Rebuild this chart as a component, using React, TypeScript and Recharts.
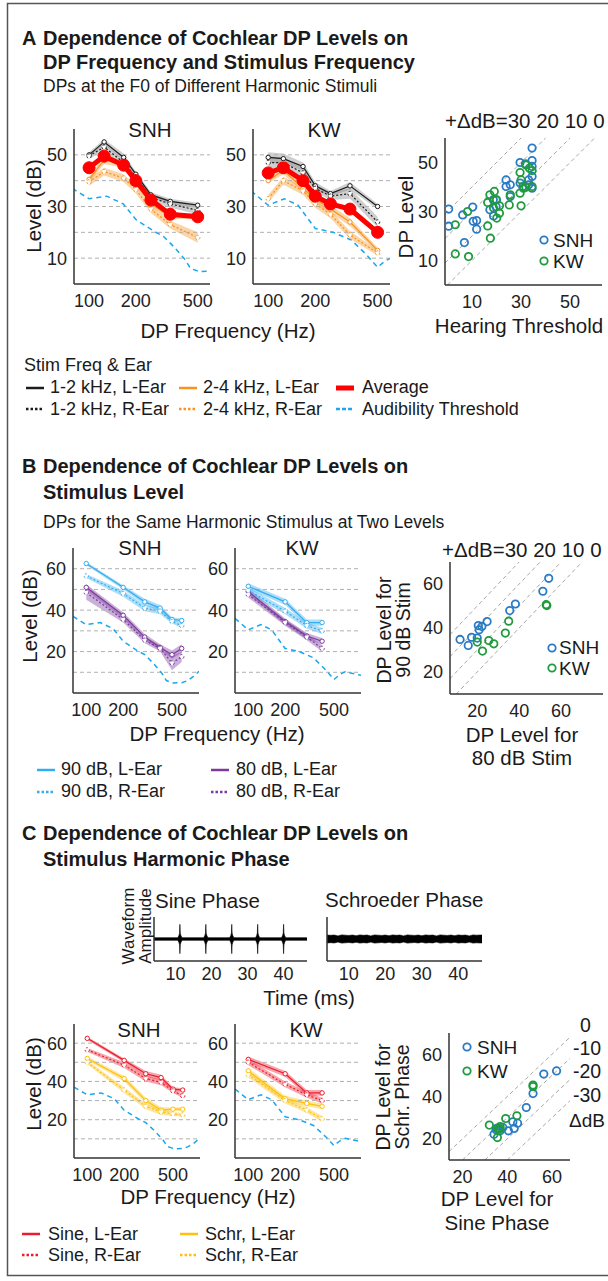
import React from 'react';
import { ComposedChart, Line, Area, XAxis, YAxis, Scatter, ReferenceLine } from 'recharts';

const FONT = '"Liberation Sans", Arial, Helvetica, sans-serif';

// ---------- Colours ----------
const C_BLACK = '#1c1c1c';
const C_ORANGE = '#f7931e';
const C_AVG = '#ff0000';
const C_THR = '#1aa7ec';
const C_B90 = '#33adf0';
const C_B80 = '#7a3a9e';
const C_SINE = '#ec1c2c';
const C_SCHR = '#fdc010';
const C_SNH = '#2a7bc6';
const C_KW = '#1f9b3e';

// ---------- Panel A data ----------
const fA = [100, 125, 167, 200, 250, 333, 500];
const snhA_blackL = [50, 55, 49, 42.5, 34.5, 32, 30.5];
const snhA_blackR = [49.5, 53, 47, 41.5, 33.5, 31, 28.5];
const snhA_orangeL = [40.5, 48, 46, 39, 31, 26, 26.5];
const snhA_orangeR = [39.5, 43.5, 41, 36.5, 29, 23, 18];
const snhA_avg = [45, 49.5, 46, 40, 32.5, 27, 26];
const snhA_blackLErr = [1, 1, 1.5, 1, 1, 1, 1];
const snhA_blackRErr = [1, 1.5, 1, 1, 1.5, 1.5, 1.5];
const snhA_orangeLErr = [1, 1.5, 1, 1, 1, 1, 1];
const snhA_orangeRErr = [1.5, 1.5, 1.5, 1.5, 1.5, 1.5, 2];

const kwA_blackL = [49, 48.5, 45.5, 38, 35, 38, 30];
const kwA_blackR = [47, 47, 43, 37, 34, 35, 24];
const kwA_orangeL = [40, 44, 37, 33, 29, 24, 13];
const kwA_orangeR = [33, 40, 36, 31, 27, 19, 12];
const kwA_avg = [43, 45, 40, 34, 31, 29, 20];
const kwA_blackLErr = [2, 2, 1.5, 1.5, 1, 1.5, 1];
const kwA_blackRErr = [2.5, 2, 2, 1.5, 1.5, 2, 2];
const kwA_orangeLErr = [1, 1.5, 1.5, 1.5, 1.5, 1.5, 1];
const kwA_orangeRErr = [1.5, 1.5, 1.5, 1.5, 1.5, 1.5, 1];

// audibility thresholds
const snhThrF = [78, 100, 130, 166, 200, 260, 300, 350, 414, 450, 513, 600, 660, 750, 830];
const snhThrL = [37, 33, 34, 31, 25, 20.5, 18.5, 14.5, 9.5, 6, 4.8, 5, 5.8, 8, 10.5];
const kwThrF = [78, 100, 127, 155, 200, 260, 340, 430, 500, 560, 620, 700, 830];
const kwThrL = [36, 30.5, 33, 30.5, 21.5, 20, 17, 11, 6.5, 9, 10.3, 9.5, 8.5];

// scatter A: DP level vs hearing threshold
const scA_snhX = [0.5, 0.5, 6.2, 6.9, 10.3, 10.5, 11.9, 11.9, 18.8, 20, 23.9, 23.9, 25.6, 25.6, 29.6, 29.6, 31.8, 33.1, 34.5, 34.5, 34.5, 34.5, 34.5, 33.1, 30.7, 17.3, 18.7, 19.8];
const scA_snhY = [31, 24, 28.6, 17.3, 31.8, 26, 26.3, 22.8, 28.2, 34.8, 42.9, 40.2, 40.9, 36.1, 50, 41.6, 49.5, 40.9, 55.9, 50.8, 48.4, 44.3, 39.5, 42.9, 40.2, 30.7, 34.8, 32];
const scA_kwX = [3.2, 3.2, 8.6, 8.2, 16.4, 17.5, 16.4, 17.3, 19.1, 18.8, 21.2, 21.2, 20.1, 25.2, 25.6, 29.6, 29.6, 30, 31, 32, 33.4, 34.5, 34.5, 32, 30, 19.8];
const scA_kwY = [24.6, 12.7, 11.6, 30, 24.1, 19.1, 33.7, 36.8, 38.2, 31.4, 32.3, 29.3, 27.3, 32.7, 36.8, 45.9, 37.5, 32.3, 39.5, 49, 47.7, 46.7, 40.2, 39.9, 42.9, 34.8];
const diagA = [30, 20, 10, 0];

// ---------- Panel B data ----------
const fB_snh = [100, 200, 300, 400, 500, 600];
const snhB_90L = [62.5, 51, 44, 41, 35.5, 35];
const snhB_90R = [56.5, 48, 41, 39.5, 34.5, 32.5];
const snhB_80L = [51, 37.5, 27, 22, 18.5, 21.5];
const snhB_80R = [48.5, 35.5, 25.5, 21.5, 14.5, 17.5];
const snhB_90LErr = [0.8, 1, 1.5, 1.5, 1, 1];
const snhB_90RErr = [1, 1.5, 1.5, 1.5, 1, 1];
const snhB_80LErr = [1.5, 1.5, 1.5, 1.5, 2, 2];
const snhB_80RErr = [3.5, 1.5, 1.5, 1.5, 3.5, 2.5];
const fB_kw = [100, 200, 300, 400];
const kwB_90L = [51.5, 44, 34, 34];
const kwB_90R = [49.5, 39.5, 32.5, 30];
const kwB_80L = [49, 34.5, 27.5, 25];
const kwB_80R = [47.5, 34, 27, 21.5];
const kwB_90LErr = [1.5, 1.5, 1.5, 1.5];
const kwB_90RErr = [1.5, 1.5, 1.5, 1.5];
const kwB_80LErr = [1.5, 1.5, 1.5, 1.5];
const kwB_80RErr = [1.5, 1.5, 1.5, 1.5];

const scB_snhX = [11.8, 15.7, 17.3, 20, 20.5, 20.9, 22.2, 24.7, 35.5, 38.2, 51.3, 54.1];
const scB_snhY = [34.8, 32.1, 35.8, 35.4, 41.1, 39.2, 40.7, 42.9, 47.9, 50.9, 56.7, 62.6];
const scB_kwX = [20, 22.5, 25.5, 27.9, 33.4, 35, 52.9, 53.2];
const scB_kwY = [33.6, 29.5, 34.3, 32.8, 37.7, 43.1, 50.6, 50.2];
const diagB = [30, 20, 10, 0];

// ---------- Panel C data ----------
const snhC_sineL = [62.5, 51, 44, 42, 36, 35.5];
const snhC_sineR = [56.5, 48.5, 41.5, 39.5, 35, 32.5];
const snhC_schrL = [52, 41.5, 30, 25, 25.5, 25.5];
const snhC_schrR = [50, 35.5, 27, 24, 23, 22.5];
const snhC_sineLErr = [0.8, 1, 1.5, 1.5, 1, 1];
const snhC_sineRErr = [1, 1.5, 1.5, 1.5, 1, 1];
const snhC_schrLErr = [1, 1.5, 1.5, 1.5, 1, 1];
const snhC_schrRErr = [1, 1.5, 1.5, 1.5, 1, 1];
const kwC_sineL = [51.5, 44, 34, 34];
const kwC_sineR = [50, 38.5, 33, 30];
const kwC_schrL = [45.5, 31, 28.5, 27];
const kwC_schrR = [43.5, 30, 25, 20.5];
const kwC_err = [1.5, 1.5, 1.5, 1.5];

const scC_snhX = [34.1, 35, 36.8, 38, 40.5, 42.5, 43.1, 44.6, 48.5, 51.5, 56.3, 62, 36.5, 35.3];
const scC_snhY = [22.2, 24.3, 23.8, 25.4, 23.8, 28, 24.9, 27.4, 34.8, 41.4, 50.6, 52.1, 24.6, 24.9];
const scC_kwX = [32, 35.6, 35.9, 36.8, 39.3, 44.3, 51.5, 51.5, 36.8];
const scC_kwY = [26.5, 20.6, 24.9, 25.8, 29.6, 30.9, 45.4, 44.7, 24.6];
const diagC = [0, -10, -20, -30];

// waveform envelopes (ms, relative amplitude)
const waveDomain = [4, 46.5];
const sinePulseTimes = [11.2, 18.4, 25.6, 32.8, 40];
const pulseOffsets = [-0.6, -0.3, -0.1, 0, 0.1, 0.3, 0.6];
const pulseAmps = [0.09, 0.22, 0.4, 1.0, 0.4, 0.22, 0.09];
const sineBase = 0.09;
const schrTimes = [4, 5, 6, 7, 8, 9, 10, 11, 12, 13, 14, 15, 16, 17, 18, 19, 20, 21, 22, 23, 24, 25, 26, 27, 28, 29, 30, 31, 32, 33, 34, 35, 36, 37, 38, 39, 40, 41, 42, 43, 44, 45, 46, 46.5];
const schrAmps = [0.27, 0.25, 0.27, 0.21, 0.28, 0.26, 0.24, 0.27, 0.22, 0.28, 0.25, 0.27, 0.21, 0.28, 0.26, 0.24, 0.27, 0.22, 0.28, 0.25, 0.27, 0.21, 0.28, 0.26, 0.24, 0.27, 0.22, 0.28, 0.25, 0.27, 0.21, 0.28, 0.26, 0.24, 0.27, 0.22, 0.28, 0.25, 0.27, 0.21, 0.28, 0.26, 0.27, 0.27];

// ---------- helpers ----------
type Spec = { key: string; xs: number[]; ys: any[] };
function mergeRows(specs: Spec[], xKey: string) {
  const map = new Map<number, any>();
  specs.forEach((s) => {
    s.xs.forEach((x, i) => {
      if (!map.has(x)) map.set(x, { [xKey]: x });
      map.get(x)[s.key] = s.ys[i];
    });
  });
  return Array.from(map.values()).sort((a, b) => a[xKey] - b[xKey]);
}

const axisLine = { stroke: '#333', strokeWidth: 1.5 };
const tickStyle = { fill: '#222', fontSize: 18, fontFamily: FONT };

type Box = { x0: number; y0: number; x1: number; y1: number };
type SeriesDef = {
  key: string; f: number[]; v: number[]; err?: number[]; color: string;
  dash?: string; width?: number; dot?: 'open' | 'big' | 'none'; bandColor?: string;
};

const YW = 50, MT = 4, MR = 4, XH = 36;

function FreqChart({ box, xDomain, yDomain, yTicks, grid, series }: { box: Box; xDomain: number[]; yDomain: number[]; yTicks: number[]; grid: number[]; series: SeriesDef[] }) {
  const W = box.x1 - box.x0 + YW + MR;
  const H = box.y1 - box.y0 + MT + XH;
  const specs: Spec[] = [];
  series.forEach((s) => {
    specs.push({ key: s.key, xs: s.f, ys: s.v });
    if (s.err) specs.push({ key: s.key + '_band', xs: s.f, ys: s.v.map((y, i) => [y - s.err![i], y + s.err![i]]) });
  });
  const rows = mergeRows(specs, 'f');
  return (
    <div style={{ position: 'absolute', left: box.x0 - YW, top: box.y0 - MT }}>
      <ComposedChart width={W} height={H} data={rows} margin={{ top: MT, right: MR, bottom: 0, left: 0 }}>
        <XAxis dataKey="f" type="number" scale="log" domain={xDomain} allowDataOverflow ticks={[100, 200, 500]} height={XH} axisLine={axisLine} tickLine={false} tickSize={0} tickMargin={10} tick={tickStyle} />
        <YAxis type="number" domain={yDomain} allowDataOverflow ticks={yTicks} width={YW} axisLine={axisLine} tickLine={false} tickSize={0} tickMargin={7} tick={tickStyle} />
        {grid.map((g) => (
          <ReferenceLine key={'g' + g} y={g} stroke="#b0b0b0" strokeDasharray="4 3" strokeWidth={1} />
        ))}
        {series.filter((s) => s.err).map((s) => (
          <Area key={s.key + '_a'} dataKey={s.key + '_band'} stroke="none" fill={s.bandColor || s.color} fillOpacity={0.4} connectNulls isAnimationActive={false} dot={false} activeDot={false} />
        ))}
        {series.map((s) => (
          <Line
            key={s.key}
            dataKey={s.key}
            stroke={s.color}
            strokeWidth={s.width ?? 1.2}
            strokeDasharray={s.dash}
            connectNulls
            isAnimationActive={false}
            activeDot={false}
            dot={s.dot === 'big' ? { r: 6, fill: s.color, stroke: s.color, strokeWidth: 1 } : s.dot === 'none' ? false : { r: 2.2, fill: '#fff', stroke: s.color, strokeWidth: 1 }}
          />
        ))}
      </ComposedChart>
    </div>
  );
}

function ScatterPanel({ box, xDomain, yDomain, xTicks, yTicks, diag, sets }: { box: Box; xDomain: number[]; yDomain: number[]; xTicks: number[]; yTicks: number[]; diag: number[]; sets: { xs: number[]; ys: number[]; color: string }[] }) {
  const W = box.x1 - box.x0 + YW + MR;
  const H = box.y1 - box.y0 + MT + XH;
  return (
    <div style={{ position: 'absolute', left: box.x0 - YW, top: box.y0 - MT }}>
      <ComposedChart width={W} height={H} margin={{ top: MT, right: MR, bottom: 0, left: 0 }}>
        <XAxis dataKey="x" type="number" domain={xDomain} allowDataOverflow ticks={xTicks} height={XH} axisLine={axisLine} tickLine={false} tickSize={0} tickMargin={10} tick={tickStyle} />
        <YAxis dataKey="y" type="number" domain={yDomain} allowDataOverflow ticks={yTicks} width={YW} axisLine={axisLine} tickLine={false} tickSize={0} tickMargin={7} tick={tickStyle} />
        {diag.map((k) => {
          const a = Math.max(xDomain[0], yDomain[0] - k);
          const b = Math.min(xDomain[1], yDomain[1] - k);
          return (
            <ReferenceLine key={'d' + k} segment={[{ x: a, y: a + k }, { x: b, y: b + k }]} stroke="#a8a8a8" strokeDasharray="4 3" strokeWidth={1} />
          );
        })}
        {sets.map((s, i) => (
          <Scatter
            key={'s' + i}
            data={s.xs.map((x, j) => ({ x, y: s.ys[j] }))}
            isAnimationActive={false}
            shape={(p: any) => <circle cx={p.cx} cy={p.cy} r={3.7} fill="none" stroke={s.color} strokeWidth={1.8} />}
          />
        ))}
      </ComposedChart>
    </div>
  );
}

function WavePanel({ box, rows }: { box: Box; rows: { t: number; r: number[] }[] }) {
  const W = box.x1 - box.x0 + YW + MR;
  const H = box.y1 - box.y0 + MT + XH;
  return (
    <div style={{ position: 'absolute', left: box.x0 - YW, top: box.y0 - MT }}>
      <ComposedChart width={W} height={H} data={rows} margin={{ top: MT, right: MR, bottom: 0, left: 0 }}>
        <XAxis dataKey="t" type="number" domain={waveDomain} allowDataOverflow ticks={[10, 20, 30, 40]} height={XH} axisLine={axisLine} tickLine={false} tickSize={0} tickMargin={6} tick={tickStyle} />
        <YAxis type="number" domain={[-1.5, 1.5]} allowDataOverflow tick={false} width={YW} axisLine={axisLine} tickLine={false} />
        <Area dataKey="r" stroke="#000" strokeWidth={0.6} fill="#000" fillOpacity={1} isAnimationActive={false} dot={false} activeDot={false} />
      </ComposedChart>
    </div>
  );
}

// ---------- build waveform rows ----------
const sineRows = (() => {
  const pts: { t: number; a: number }[] = [{ t: waveDomain[0], a: sineBase }];
  sinePulseTimes.forEach((tp) => pulseOffsets.forEach((o, k) => pts.push({ t: tp + o, a: pulseAmps[k] })));
  pts.push({ t: waveDomain[1], a: sineBase });
  return pts.map((p) => ({ t: p.t, r: [-p.a, p.a] }));
})();
const schrRows = schrTimes.map((t, i) => ({ t, r: [-schrAmps[i], schrAmps[i]] }));

// ---------- boxes ----------
const boxA1 = { x0: 74, y0: 129, x1: 210, y1: 284 };
const boxA2 = { x0: 253, y0: 129, x1: 390, y1: 284 };
const boxA3 = { x0: 445, y0: 138, x1: 602, y1: 285 };
const boxB1 = { x0: 73, y0: 548, x1: 199, y1: 693 };
const boxB2 = { x0: 235, y0: 548, x1: 361, y1: 693 };
const boxB3 = { x0: 450, y0: 562, x1: 603, y1: 694 };
const boxW1 = { x0: 154, y0: 917, x1: 307, y1: 961 };
const boxW2 = { x0: 327, y0: 917, x1: 482, y1: 961 };
const boxC1 = { x0: 74, y0: 1024, x1: 200, y1: 1158 };
const boxC2 = { x0: 235, y0: 1024, x1: 361, y1: 1158 };
const boxC3 = { x0: 449, y0: 1033, x1: 570, y1: 1160 };

const domA = [80, 600];
const domBC = [78, 830];

function thr(key: string, f: number[], v: number[]): SeriesDef {
  return { key, f, v, color: C_THR, dash: '5 4', width: 1.5, dot: 'none' };
}

// ---------- text overlay helpers ----------
const LAB = 20.5;
const LEG = 18;
const SLEG = 19;
function T({ x, y, s = LAB, w = 400, a = 'start', rot = false, fill = '#1a1a1a', children }: any) {
  return (
    <text x={x} y={y} fontSize={s} fontWeight={w} textAnchor={a} fill={fill} fontFamily={FONT} transform={rot ? `rotate(-90 ${x} ${y})` : undefined}>
      {children}
    </text>
  );
}
function LegLine({ x, y, color, dash, w = 2.5 }: any) {
  return <line x1={x} y1={y} x2={x + 18} y2={y} stroke={color} strokeWidth={w} strokeDasharray={dash} />;
}
function LegDot({ x, y, color }: any) {
  return <circle cx={x} cy={y} r={3.7} fill="none" stroke={color} strokeWidth={1.8} />;
}

export default function App() {
  return (
    <div style={{ position: 'absolute', left: 0, top: 0, width: 608, height: 1281, background: '#fff', fontFamily: FONT, overflow: 'hidden' }}>
      {/* Panel A */}
      <FreqChart box={boxA1} xDomain={domA} yDomain={[0, 60]} yTicks={[10, 30, 50]} grid={[10, 20, 30, 40, 50]}
        series={[
          thr('thr', snhThrF, snhThrL),
          { key: 'bl', f: fA, v: snhA_blackL, err: snhA_blackLErr, color: C_BLACK, bandColor: '#888' },
          { key: 'br', f: fA, v: snhA_blackR, err: snhA_blackRErr, color: C_BLACK, bandColor: '#888', dash: '2 2' },
          { key: 'ol', f: fA, v: snhA_orangeL, err: snhA_orangeLErr, color: C_ORANGE },
          { key: 'or', f: fA, v: snhA_orangeR, err: snhA_orangeRErr, color: C_ORANGE, dash: '2 2' },
          { key: 'avg', f: fA, v: snhA_avg, color: C_AVG, width: 5, dot: 'big' },
        ]} />
      <FreqChart box={boxA2} xDomain={domA} yDomain={[0, 60]} yTicks={[10, 30, 50]} grid={[10, 20, 30, 40, 50]}
        series={[
          thr('thr', kwThrF, kwThrL),
          { key: 'bl', f: fA, v: kwA_blackL, err: kwA_blackLErr, color: C_BLACK, bandColor: '#888' },
          { key: 'br', f: fA, v: kwA_blackR, err: kwA_blackRErr, color: C_BLACK, bandColor: '#888', dash: '2 2' },
          { key: 'ol', f: fA, v: kwA_orangeL, err: kwA_orangeLErr, color: C_ORANGE },
          { key: 'or', f: fA, v: kwA_orangeR, err: kwA_orangeRErr, color: C_ORANGE, dash: '2 2' },
          { key: 'avg', f: fA, v: kwA_avg, color: C_AVG, width: 5, dot: 'big' },
        ]} />
      <ScatterPanel box={boxA3} xDomain={[-1, 63]} yDomain={[0, 60]} xTicks={[10, 30, 50]} yTicks={[10, 30, 50]} diag={diagA}
        sets={[{ xs: scA_snhX, ys: scA_snhY, color: C_SNH }, { xs: scA_kwX, ys: scA_kwY, color: C_KW }]} />

      {/* Panel B */}
      <FreqChart box={boxB1} xDomain={domBC} yDomain={[0, 70]} yTicks={[20, 40, 60]} grid={[10, 20, 30, 40, 50, 60]}
        series={[
          thr('thr', snhThrF, snhThrL),
          { key: 'pl', f: fB_snh, v: snhB_80L, err: snhB_80LErr, color: C_B80 },
          { key: 'pr', f: fB_snh, v: snhB_80R, err: snhB_80RErr, color: C_B80, dash: '2 2' },
          { key: 'cl', f: fB_snh, v: snhB_90L, err: snhB_90LErr, color: C_B90 },
          { key: 'cr', f: fB_snh, v: snhB_90R, err: snhB_90RErr, color: C_B90, dash: '2 2' },
        ]} />
      <FreqChart box={boxB2} xDomain={domBC} yDomain={[0, 70]} yTicks={[20, 40, 60]} grid={[10, 20, 30, 40, 50, 60]}
        series={[
          thr('thr', kwThrF, kwThrL),
          { key: 'pl', f: fB_kw, v: kwB_80L, err: kwB_80LErr, color: C_B80 },
          { key: 'pr', f: fB_kw, v: kwB_80R, err: kwB_80RErr, color: C_B80, dash: '2 2' },
          { key: 'cl', f: fB_kw, v: kwB_90L, err: kwB_90LErr, color: C_B90 },
          { key: 'cr', f: fB_kw, v: kwB_90R, err: kwB_90RErr, color: C_B90, dash: '2 2' },
        ]} />
      <ScatterPanel box={boxB3} xDomain={[7, 80]} yDomain={[10, 70]} xTicks={[20, 40, 60]} yTicks={[20, 40, 60]} diag={diagB}
        sets={[{ xs: scB_snhX, ys: scB_snhY, color: C_SNH }, { xs: scB_kwX, ys: scB_kwY, color: C_KW }]} />

      {/* Panel C */}
      <WavePanel box={boxW1} rows={sineRows} />
      <WavePanel box={boxW2} rows={schrRows} />
      <FreqChart box={boxC1} xDomain={domBC} yDomain={[0, 70]} yTicks={[20, 40, 60]} grid={[10, 20, 30, 40, 50, 60]}
        series={[
          thr('thr', snhThrF, snhThrL),
          { key: 'yl', f: fB_snh, v: snhC_schrL, err: snhC_schrLErr, color: C_SCHR },
          { key: 'yr', f: fB_snh, v: snhC_schrR, err: snhC_schrRErr, color: C_SCHR, dash: '2 2' },
          { key: 'rl', f: fB_snh, v: snhC_sineL, err: snhC_sineLErr, color: C_SINE },
          { key: 'rr', f: fB_snh, v: snhC_sineR, err: snhC_sineRErr, color: C_SINE, dash: '2 2' },
        ]} />
      <FreqChart box={boxC2} xDomain={domBC} yDomain={[0, 70]} yTicks={[20, 40, 60]} grid={[10, 20, 30, 40, 50, 60]}
        series={[
          thr('thr', kwThrF, kwThrL),
          { key: 'yl', f: fB_kw, v: kwC_schrL, err: kwC_err, color: C_SCHR },
          { key: 'yr', f: fB_kw, v: kwC_schrR, err: kwC_err, color: C_SCHR, dash: '2 2' },
          { key: 'rl', f: fB_kw, v: kwC_sineL, err: kwC_err, color: C_SINE },
          { key: 'rr', f: fB_kw, v: kwC_sineR, err: kwC_err, color: C_SINE, dash: '2 2' },
        ]} />
      <ScatterPanel box={boxC3} xDomain={[14, 68]} yDomain={[10, 70]} xTicks={[20, 40, 60]} yTicks={[20, 40, 60]} diag={diagC}
        sets={[{ xs: scC_snhX, ys: scC_snhY, color: C_SNH }, { xs: scC_kwX, ys: scC_kwY, color: C_KW }]} />

      {/* text overlay */}
      <svg width={608} height={1281} style={{ position: 'absolute', left: 0, top: 0, pointerEvents: 'none' }}>
        <rect x={7.5} y={3.5} width={640} height={1272} fill="none" stroke="#555" strokeWidth={1.5} />

        {/* A */}
        <T x={22} y={45} s={20} w={700}>A</T>
        <T x={43} y={45} s={20} w={700}>Dependence of Cochlear DP Levels on</T>
        <T x={43} y={69} s={20} w={700}>DP Frequency and Stimulus Frequency</T>
        <T x={43} y={92} s={17.5}>DPs at the F0 of Different Harmonic Stimuli</T>
        <T x={150} y={137} a="middle">SNH</T>
        <T x={324} y={137} a="middle">KW</T>
        <T x={445} y={128}>+ΔdB=30 20 10 0</T>
        <T x={41} y={206} a="middle" rot>Level (dB)</T>
        <T x={228} y={338} a="middle">DP Frequency (Hz)</T>
        <T x={413} y={217} a="middle" rot>DP Level</T>
        <T x={519} y={333} a="middle">Hearing Threshold</T>
        <LegDot x={544} y={240} color={C_SNH} />
        <T x={553} y={247} s={SLEG}>SNH</T>
        <LegDot x={544} y={261} color={C_KW} />
        <T x={553} y={268} s={SLEG}>KW</T>

        <T x={24} y={371} s={LEG}>Stim Freq &amp; Ear</T>
        <LegLine x={26} y={388} color={C_BLACK} />
        <T x={50} y={393} s={LEG}>1-2 kHz, L-Ear</T>
        <LegLine x={26} y={409} color={C_BLACK} dash="2.5 2" />
        <T x={50} y={415} s={LEG}>1-2 kHz, R-Ear</T>
        <LegLine x={179} y={388} color={C_ORANGE} />
        <T x={203} y={393} s={LEG}>2-4 kHz, L-Ear</T>
        <LegLine x={179} y={409} color={C_ORANGE} dash="2.5 2" />
        <T x={203} y={415} s={LEG}>2-4 kHz, R-Ear</T>
        <LegLine x={336} y={388} color={C_AVG} w={5} />
        <T x={362} y={393} s={LEG}>Average</T>
        <LegLine x={336} y={409} color={C_THR} dash="4 2" />
        <T x={362} y={415} s={LEG}>Audibility Threshold</T>

        {/* B */}
        <T x={22} y={473} s={20} w={700}>B</T>
        <T x={43} y={473} s={20} w={700}>Dependence of Cochlear DP Levels on</T>
        <T x={43} y={499} s={20} w={700}>Stimulus Level</T>
        <T x={43} y={528} s={17.5}>DPs for the Same Harmonic Stimulus at Two Levels</T>
        <T x={140} y={555} a="middle">SNH</T>
        <T x={302} y={555} a="middle">KW</T>
        <T x={442} y={557}>+ΔdB=30 20 10 0</T>
        <T x={37} y={616} a="middle" rot>Level (dB)</T>
        <T x={217} y={741} a="middle">DP Frequency (Hz)</T>
        <T x={391} y={630} s={19.5} a="middle" rot>DP Level for</T>
        <T x={410} y={630} s={19.5} a="middle" rot>90 dB Stim</T>
        <T x={522} y={742} a="middle">DP Level for</T>
        <T x={522} y={765} a="middle">80 dB Stim</T>
        <LegDot x={552} y={648} color={C_SNH} />
        <T x={559} y={654} s={SLEG}>SNH</T>
        <LegDot x={552} y={668} color={C_KW} />
        <T x={559} y={675} s={SLEG}>KW</T>

        <LegLine x={37} y={770} color={C_B90} />
        <T x={61} y={775} s={LEG}>90 dB, L-Ear</T>
        <LegLine x={37} y={792} color={C_B90} dash="2.5 2" />
        <T x={61} y={797} s={LEG}>90 dB, R-Ear</T>
        <LegLine x={211} y={770} color={C_B80} />
        <T x={236} y={775} s={LEG}>80 dB, L-Ear</T>
        <LegLine x={211} y={792} color={C_B80} dash="2.5 2" />
        <T x={236} y={797} s={LEG}>80 dB, R-Ear</T>

        {/* C */}
        <T x={22} y={840} s={20} w={700}>C</T>
        <T x={43} y={840} s={20} w={700}>Dependence of Cochlear DP Levels on</T>
        <T x={43} y={866} s={20} w={700}>Stimulus Harmonic Phase</T>
        <T x={155} y={908}>Sine Phase</T>
        <T x={325} y={907}>Schroeder Phase</T>
        <T x={134} y={926} s={17} a="middle" rot>Waveform</T>
        <T x={151} y={926} s={17} a="middle" rot>Amplitude</T>
        <T x={309} y={1005} a="middle">Time (ms)</T>
        <T x={139} y={1037} a="middle">SNH</T>
        <T x={306} y={1037} a="middle">KW</T>
        <T x={41} y={1084} a="middle" rot>Level (dB)</T>
        <T x={208} y={1204} a="middle">DP Frequency (Hz)</T>
        <T x={390} y={1097} s={19.5} a="middle" rot>DP Level for</T>
        <T x={409} y={1097} s={19.5} a="middle" rot>Schr. Phase</T>
        <T x={497} y={1206} a="middle">DP Level for</T>
        <T x={497} y={1230} a="middle">Sine Phase</T>
        <LegDot x={467} y={1047} color={C_SNH} />
        <T x={477} y={1054} s={SLEG}>SNH</T>
        <LegDot x={467} y={1071} color={C_KW} />
        <T x={477} y={1078} s={SLEG}>KW</T>
        <T x={580} y={1032} s={19.5}>0</T>
        <T x={573} y={1055} s={19.5}>-10</T>
        <T x={573} y={1078} s={19.5}>-20</T>
        <T x={573} y={1102} s={19.5}>-30</T>
        <T x={569} y={1127} s={19}>ΔdB</T>

        <LegLine x={22} y={1234} color={C_SINE} />
        <T x={48} y={1240} s={LEG}>Sine, L-Ear</T>
        <LegLine x={22} y={1255} color={C_SINE} dash="2.5 2" />
        <T x={48} y={1261} s={LEG}>Sine, R-Ear</T>
        <LegLine x={180} y={1234} color={C_SCHR} />
        <T x={205} y={1240} s={LEG}>Schr, L-Ear</T>
        <LegLine x={180} y={1255} color={C_SCHR} dash="2.5 2" />
        <T x={205} y={1261} s={LEG}>Schr, R-Ear</T>
      </svg>
    </div>
  );
}
